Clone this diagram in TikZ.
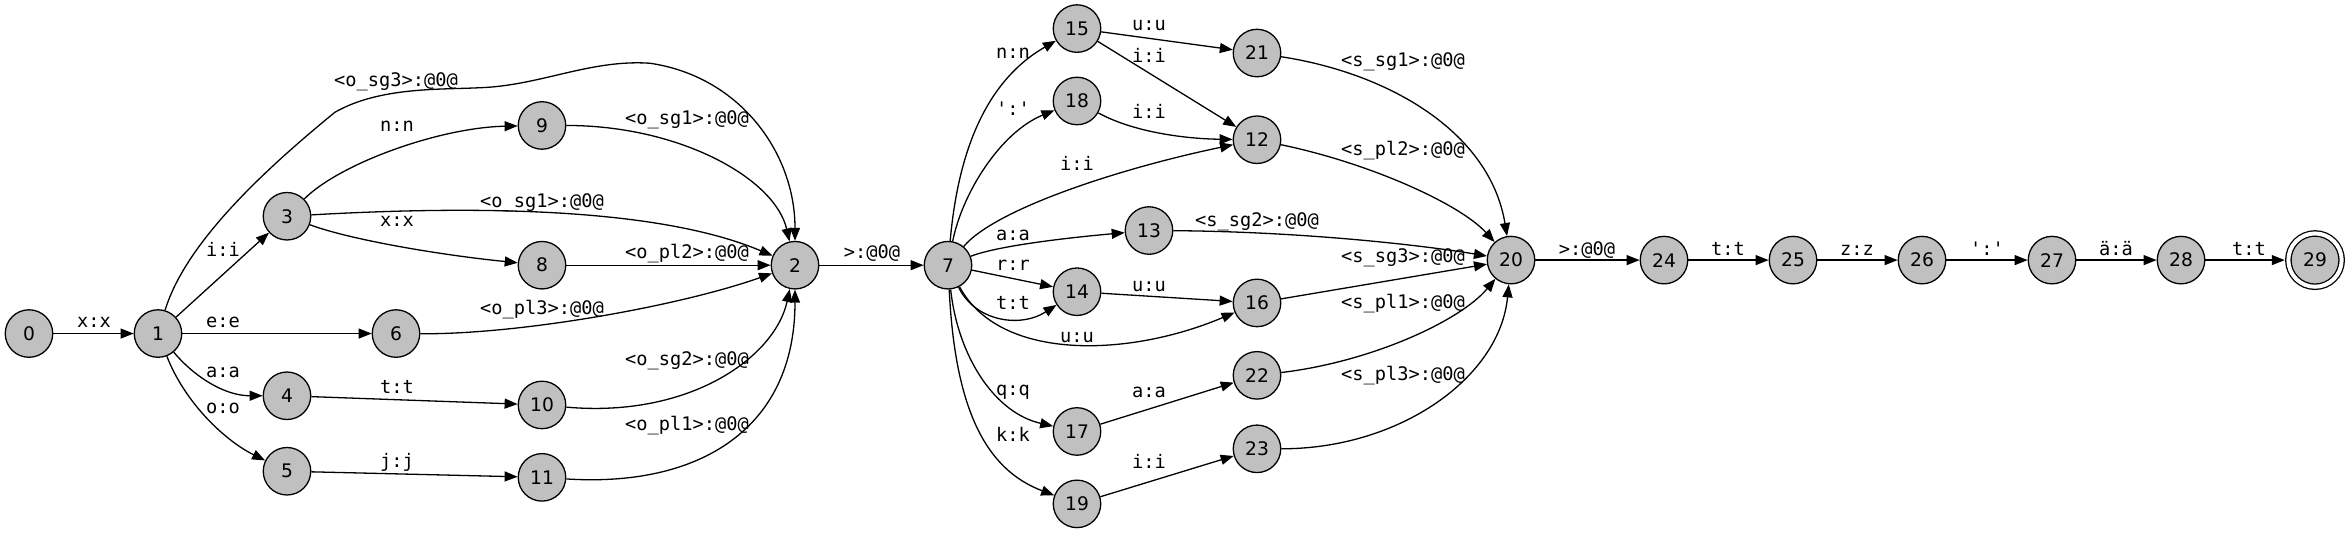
\documentclass[tikz,border=0pt]{standalone}
\usepackage{fontspec}
\setmainfont{DejaVu Sans}
\newfontfamily\lblfont{DejaVu Sans Mono}
\usepackage{tikz}
\usetikzlibrary{arrows.meta}
\definecolor{stategray}{RGB}{192,192,192}

\begin{document}
\begin{tikzpicture}[
  x=1pt, y=-1.02pt, line width=1.3pt,
  >={Triangle[length=13pt, width=10pt]},
  state/.style={circle, draw, fill=stategray, minimum size=47.5pt, inner sep=0pt, font=\fontsize{18.67}{20}\selectfont},
  final/.style={state, double, double distance=4pt, minimum size=53.3pt, outer sep=3.6pt},
  lbl/.style={inner sep=0pt, text height=14pt, text depth=3pt, font=\lblfont\fontsize{18.67}{20}\selectfont}
]
  \useasboundingbox (0,0) rectangle (2351,522.5);

  \node[state] (n0) at (29,327) {0};
  \node[state] (n1) at (158,327) {1};
  \node[state] (n3) at (287,212) {3};
  \node[state] (n6) at (396,327) {6};
  \node[state] (n4) at (287,388) {4};
  \node[state] (n5) at (287,462) {5};
  \node[state] (n9) at (542,123) {9};
  \node[state] (n8) at (542,260) {8};
  \node[state] (n10) at (542,397) {10};
  \node[state] (n11) at (542,468) {11};
  \node[state] (n2) at (795,260) {2};
  \node[state] (n7) at (948,260) {7};
  \node[state] (n15) at (1077,28) {15};
  \node[state] (n18) at (1077,99) {18};
  \node[state] (n13) at (1149,226) {13};
  \node[state] (n14) at (1077,286) {14};
  \node[state] (n17) at (1077,423) {17};
  \node[state] (n19) at (1077,494) {19};
  \node[state] (n21) at (1257,52) {21};
  \node[state] (n12) at (1257,137) {12};
  \node[state] (n16) at (1257,297) {16};
  \node[state] (n22) at (1257,368) {22};
  \node[state] (n23) at (1257,440) {23};
  \node[state] (n20) at (1511,255) {20};
  \node[state] (n24) at (1664,255) {24};
  \node[state] (n25) at (1793,255) {25};
  \node[state] (n26) at (1922,255) {26};
  \node[state] (n27) at (2052,255) {27};
  \node[state] (n28) at (2181,255) {28};
  \node[final] (n29) at (2315,255) {29};

  \draw[->] (n0) -- (n1) node[lbl] at (94,316) {x:x};
  \draw[->] (n1) -- (n3) node[lbl] at (223,246) {i:i};
  \draw[->] (n1) -- (n6) node[lbl] at (223,316) {e:e};
  \draw[->] (n1) .. controls (195,370) and (225,388) .. (n4) node[lbl] at (223,365) {a:a};
  \draw[->] (n1) .. controls (185,395) and (225,432) .. (n5) node[lbl] at (223,400) {o:o};
  \draw[->] (n1) .. controls (185,240) and (260,170) .. (335,110) .. controls (380,85) and (440,88) .. (480,86)
    .. controls (540,84) and (590,58) .. (650,62) .. controls (740,75) and (795,150) .. (n2)
    node[lbl] at (396,79) {<o\_sg3>:@0@};
  \draw[->] (n3) .. controls (340,160) and (440,125) .. (n9) node[lbl] at (397,124) {n:n};
  \draw[->] (n3) .. controls (450,203) and (650,200) .. (n2) node[lbl] at (542,198) {<o\_sg1>:@0@};
  \draw[->] (n3) .. controls (350,235) and (440,250) .. (n8) node[lbl] at (397,217) {x:x};
  \draw[->] (n6) .. controls (520,328) and (680,300) .. (n2) node[lbl] at (542,303) {<o\_pl3>:@0@};
  \draw[->] (n4) -- (n10) node[lbl] at (397,380) {t:t};
  \draw[->] (n5) -- (n11) node[lbl] at (397,453) {j:j};
  \draw[->] (n9) .. controls (680,123) and (775,175) .. (n2) node[lbl] at (687,117) {<o\_sg1>:@0@};
  \draw[->] (n8) -- (n2) node[lbl] at (687,248) {<o\_pl2>:@0@};
  \draw[->] (n10) .. controls (690,410) and (775,350) .. (n2) node[lbl] at (687,353) {<o\_sg2>:@0@};
  \draw[->] (n11) .. controls (700,478) and (795,420) .. (n2) node[lbl] at (687,417) {<o\_pl1>:@0@};
  \draw[->] (n2) -- (n7) node[lbl] at (872,248) {>:@0@};

  \draw[->] (n7) .. controls (958,150) and (985,80) .. (n15) node[lbl] at (1013,52) {n:n};
  \draw[->] (n7) .. controls (962,190) and (1000,130) .. (n18) node[lbl] at (1013,108) {\textquotesingle:\textquotesingle};
  \draw[->] (n7) .. controls (995,205) and (1120,165) .. (n12) node[lbl] at (1077,162) {i:i};
  \draw[->] (n7) .. controls (1000,240) and (1080,232) .. (n13) node[lbl] at (1013,230) {a:a};
  \draw[->] (n7) -- (n14) node[lbl] at (1013,260) {r:r};
  \draw[->] (n7) .. controls (975,315) and (1020,322) .. (n14) node[lbl] at (1013,298) {t:t};
  \draw[->] (n7) .. controls (1000,355) and (1130,350) .. (n16) node[lbl] at (1077,330) {u:u};
  \draw[->] (n7) .. controls (958,350) and (995,405) .. (n17) node[lbl] at (1013,382) {q:q};
  \draw[->] (n7) .. controls (955,400) and (985,460) .. (n19) node[lbl] at (1013,427) {k:k};
  \draw[->] (n15) -- (n21) node[lbl] at (1149,25) {u:u};
  \draw[->] (n15) -- (n12) node[lbl] at (1149,56) {i:i};
  \draw[->] (n18) .. controls (1130,128) and (1180,136) .. (n12) node[lbl] at (1149,111) {i:i};
  \draw[->] (n14) -- (n16) node[lbl] at (1149,280) {u:u};
  \draw[->] (n17) -- (n22) node[lbl] at (1149,384) {a:a};
  \draw[->] (n19) -- (n23) node[lbl] at (1149,454) {i:i};

  \draw[->] (n21) .. controls (1390,72) and (1490,130) .. (n20) node[lbl] at (1403,60) {<s\_sg1>:@0@};
  \draw[->] (n12) .. controls (1370,160) and (1460,200) .. (n20) node[lbl] at (1403,147) {<s\_pl2>:@0@};
  \draw[->] (n13) .. controls (1300,227) and (1420,240) .. (n20) node[lbl] at (1257,217) {<s\_sg2>:@0@};
  \draw[->] (n16) -- (n20) node[lbl] at (1403,252) {<s\_sg3>:@0@};
  \draw[->] (n22) .. controls (1370,355) and (1460,315) .. (n20) node[lbl] at (1403,297) {<s\_pl1>:@0@};
  \draw[->] (n23) .. controls (1400,440) and (1500,370) .. (n20) node[lbl] at (1403,368) {<s\_pl3>:@0@};

  \draw[->] (n20) -- (n24) node[lbl] at (1587,245) {>:@0@};
  \draw[->] (n24) -- (n25) node[lbl] at (1728,245) {t:t};
  \draw[->] (n25) -- (n26) node[lbl] at (1857,245) {z:z};
  \draw[->] (n26) -- (n27) node[lbl] at (1987,245) {\textquotesingle:\textquotesingle};
  \draw[->] (n27) -- (n28) node[lbl] at (2116,245) {ä:ä};
  \draw[->] (n28) -- (n29) node[lbl] at (2249,245) {t:t};
\end{tikzpicture}
\end{document}
